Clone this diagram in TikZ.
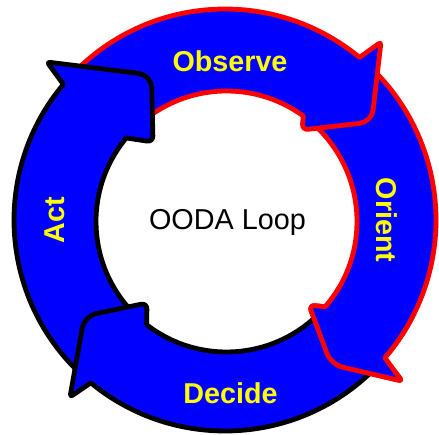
\documentclass[tikz,border=0pt]{standalone}
\usepackage{fontspec}
\setmainfont{Liberation Sans}
\usetikzlibrary{calc}
\definecolor{ablue}{RGB}{0,0,255}
\definecolor{ared}{RGB}{255,0,0}
\definecolor{ayellow}{RGB}{255,255,0}
\newcommand{\orientpath}{($(Co)+(312:211)$) arc[start angle=312, end angle=400.8, radius=211]
  [rounded corners=3pt] -- (oriOB) [rounded corners=12pt] -- (oriT) [rounded corners=6pt] -- (oriIB) [sharp corners] -- ($(Ci)+(400.8:130.5)$)
  arc[start angle=400.8, end angle=312, radius=130.5] -- cycle}
\begin{document}
\begin{tikzpicture}[x=1pt,y=-1pt,
  arrowshape/.style={fill=ablue, line width=4.8pt, line join=round},
  lbl/.style={text=ayellow, font=\fontsize{28.7}{30}\selectfont\bfseries, inner sep=0pt}]
\useasboundingbox (0,0) rectangle (439,435);
\fill[white] (0,0) rectangle (439,435);
\coordinate (Co) at (225,220);
\coordinate (Ci) at (226.5,221.5);
% head points
\coordinate (actOB) at (47,62);
\coordinate (actT) at (151.5,75);
\coordinate (actIB) at (153,142);
\coordinate (obsOB) at (381,42);
\coordinate (obsT) at (371.7,122);
\coordinate (obsIB) at (302,130);
\coordinate (oriOB) at (402,381);
\coordinate (oriT) at (331,364.5);
\coordinate (oriIB) at (309,305);
\coordinate (decOB) at (70,397);
\coordinate (decT) at (84.4,316);
\coordinate (decIB) at (147,303);
% Orient
\draw[arrowshape, draw=ared] \orientpath;
% Observe
\draw[arrowshape, draw=ared] ($(Co)+(225:211)$) arc[start angle=225, end angle=309.6, radius=211]
  [rounded corners=3pt] -- (obsOB) [rounded corners=12pt] -- (obsT) [rounded corners=6pt] -- (obsIB) [sharp corners] -- ($(Ci)+(306.05:130.5)$)
  arc[start angle=306.05, end angle=225, radius=130.5] -- cycle;
% Act
\draw[arrowshape, draw=black] ($(Co)+(134:211)$) arc[start angle=134, end angle=220, radius=211]
  [rounded corners=3pt] -- (actOB) [rounded corners=13pt] -- (actT) [rounded corners=6pt] -- (actIB) [sharp corners] -- ($(Ci)+(219.8:130.5)$)
  arc[start angle=219.8, end angle=134, radius=130.5] -- cycle;
% Decide
\draw[arrowshape, draw=black] ($(Co)+(45:211)$) arc[start angle=45, end angle=129.5, radius=211]
  [rounded corners=3pt] -- (decOB) [rounded corners=12pt] -- (decT) [rounded corners=6pt] -- (decIB) [sharp corners] -- ($(Ci)+(127.75:130.5)$)
  arc[start angle=127.75, end angle=45, radius=130.5] -- cycle;
% Orient head again on top of Decide's tail
\begin{scope}
\clip (295,288) rectangle (415,395);
\draw[arrowshape, draw=ared] \orientpath;
\end{scope}
% labels
\node[lbl, anchor=base] (obs) at (230,71.7) {Observe};
\node[lbl, anchor=base] (dec) at (230.5,403.5) {Decide};
\node[lbl, anchor=base, rotate=-90] (ori) at (376.7,220) {Orient};
\node[lbl, anchor=base, rotate=90] (act) at (64.3,220) {Act};
\node[anchor=base, inner sep=0pt, font=\fontsize{28.8}{30}\selectfont] (title) at (227.5,229.3) {OODA Loop};
\end{tikzpicture}
\end{document}
